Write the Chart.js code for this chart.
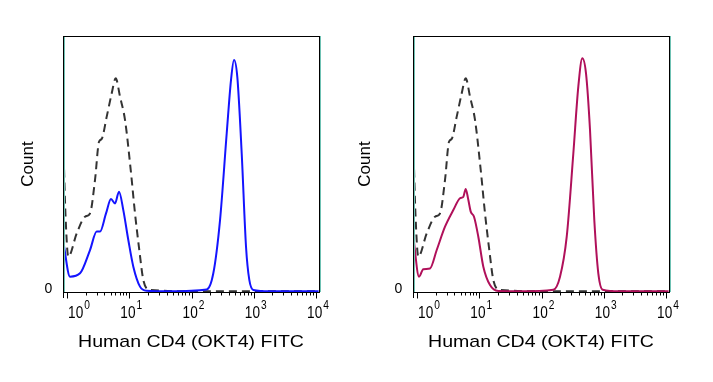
<!DOCTYPE html>
<html>
<head>
<meta charset="utf-8">
<script src="https://cdn.jsdelivr.net/npm/chart.js@4"></script>
<style>
  html, body { margin: 0; padding: 0; background: #fff; }
  #wrap { position: relative; width: 713px; height: 382px; overflow: hidden; }
  canvas { position: absolute; top: 0; }
</style>
</head>
<body>
<div id="wrap">
  <canvas id="c1" width="356" height="382" style="left:0px"></canvas>
  <canvas id="c2" width="356" height="382" style="left:350px"></canvas>
</div>
<script>
// ---- data (fluorescence intensity, relative count) ----
const isotypeX = [0.872, 0.946, 1.049, 1.432, 1.946, 2.342, 2.817, 3.267, 3.609, 4.343, 5.226, 6.059, 7.102, 8.545, 10.55, 12.37, 14.50, 16.82, 21.54, 100, 1000, 11000];
const isotypeY = [58, 30, 13.8, 22.9, 29.4, 30.7, 43.8, 58.7, 59.8, 68.5, 77.6, 83.5, 76.3, 67.2, 47.7, 30.7, 16.4, 4.7, 0.8, 0.3, 0.3, 0.3];

const fitcX = [0.872, 1.117, 1.618, 2.342, 3.000, 3.390, 4.232, 5.090, 5.903, 6.844, 8.024, 9.654, 11.62, 14.89, 19.07, 45, 175.5, 224.0, 287.0, 367.7, 431.0, 481.6, 544.1, 640.6, 750.9, 848.3, 983.5, 1824, 11000];
const fitcY = [19.6, 6.0, 7.3, 16.4, 23.6, 23.6, 30.7, 36.3, 34.6, 39.2, 32, 20.3, 9.9, 2.1, 0.5, 0.3, 1, 7.3, 28, 62, 82.8, 90.6, 84, 54, 17.7, 4.7, 0.8, 0.3, 0.3];

const fitc2X = [0.872, 1.077, 1.262, 1.618, 2.073, 2.817, 3.830, 4.908, 5.543, 6.059, 6.671, 7.292, 8.234, 9.654, 11.62, 14.89, 20.23, 45, 154.7, 198.3, 254.1, 324.2, 390.1, 452.4, 518.6, 601.4, 705.1, 817.5, 961.9, 1824, 11000];
const fitc2Y = [21.6, 6.0, 8.9, 9.2, 16.4, 25.5, 32, 36.6, 37.2, 40.2, 36, 31.4, 29.4, 21.6, 9.9, 2.7, 0.4, 0.3, 0.9, 6, 21.6, 54, 80.2, 91.3, 85.4, 63.3, 28, 7.3, 0.9, 0.3, 0.3];

const tickExponents = [0, 1, 2, 3, 4];
const yTickLabels = ['0'];
const xTitle = 'Human CD4 (OKT4) FITC';
const yTitle = 'Count';

const pts = (xs, ys) => xs.map((x, i) => ({ x: x, y: ys[i] }));

const FONT = '"Liberation Sans", Arial, Helvetica, sans-serif';

function scaledText(ctx, text, x, y, font, sx, align) {
  ctx.save();
  ctx.translate(x, y);
  ctx.scale(sx, 1);
  ctx.font = font;
  ctx.textAlign = align || 'left';
  ctx.textBaseline = 'alphabetic';
  ctx.fillText(text, 0, 0);
  ctx.restore();
}

const facsFrame = {
  id: 'facsFrame',
  afterDatasetsDraw(chart, args, opts) {
    const ctx = chart.ctx;
    const a = chart.chartArea;
    const xs = chart.scales.x;
    const ys = chart.scales.y;
    ctx.save();
    // frame
    const L = Math.round(a.left), T = Math.round(a.top), R = Math.round(a.right), B = Math.round(a.bottom);
    ctx.lineWidth = 1;
    ctx.strokeStyle = '#6fc2b4';
    ctx.beginPath();
    ctx.moveTo(L + 1.5, T + 1); ctx.lineTo(L + 1.5, B);
    ctx.moveTo(R + 1.5, T); ctx.lineTo(R + 1.5, B);
    ctx.stroke();
    ctx.strokeStyle = '#000';
    ctx.strokeRect(L + 0.5, T + 0.5, R - L, B - T);

    // x ticks (major + minor)
    ctx.beginPath();
    for (const e of tickExponents) {
      for (let m = 1; m <= 9; m++) {
        const v = m * Math.pow(10, e);
        if (v < xs.min || v > xs.max) continue;
        const px = Math.round(xs.getPixelForValue(v)) + 0.5;
        const len = (m === 1) ? 6 : 3;
        ctx.moveTo(px, B + 0.5);
        ctx.lineTo(px, B + 0.5 + len);
      }
    }
    ctx.moveTo(L + 0.5, B + 0.5); ctx.lineTo(L + 0.5, B + 6);
    ctx.stroke();

    // x tick labels 10^n
    ctx.fillStyle = '#000';
    const baseFont = '16px ' + FONT;
    const supFont = '12px ' + FONT;
    const sx = 0.85;
    for (const e of tickExponents) {
      const px = xs.getPixelForValue(Math.pow(10, e));
      ctx.font = baseFont;
      const w1 = ctx.measureText('10').width * sx;
      ctx.font = supFont;
      const w2 = ctx.measureText(String(e)).width * sx;
      const total = w1 + 1 + w2;
      let cx = Math.max(px + 2, a.left + 16);
      const start = cx - total / 2;
      scaledText(ctx, '10', start, B + 26, baseFont, sx, 'left');
      scaledText(ctx, String(e), start + w1 + 1, B + 17, supFont, sx, 'left');
    }

    // y tick label
    ctx.font = '14px ' + FONT;
    ctx.textAlign = 'center';
    ctx.textBaseline = 'alphabetic';
    ctx.fillText(yTickLabels[0], a.left - 14.5, ys.getPixelForValue(0) + 0.5);

    // x title
    scaledText(ctx, xTitle, (a.left + a.right) / 2, B + 55, '17px ' + FONT, 1.15, 'center');

    // y title
    ctx.save();
    ctx.translate(opts.yTitleX, (a.top + a.bottom) / 2);
    ctx.rotate(-Math.PI / 2);
    ctx.font = '17px ' + FONT;
    ctx.textAlign = 'center';
    ctx.textBaseline = 'middle';
    ctx.fillText(yTitle, 0, 0);
    ctx.restore();

    ctx.restore();
  }
};

function makePanel(id, sampleX, sampleY, color, yTitleX) {
  return new Chart(document.getElementById(id), {
    type: 'line',
    data: {
      datasets: [
        {
          data: pts(sampleX, sampleY),
          borderColor: color,
          borderWidth: 2,
          pointRadius: 0,
          fill: false,
          cubicInterpolationMode: 'monotone'
        },
        {
          data: pts(isotypeX, isotypeY),
          borderColor: '#333333',
          borderWidth: 2,
          borderDash: [8, 5],
          pointRadius: 0,
          fill: false,
          cubicInterpolationMode: 'monotone'
        }
      ]
    },
    options: {
      responsive: false,
      animation: false,
      layout: { padding: { left: 63, top: 36, right: 37, bottom: 90 } },
      plugins: {
        legend: { display: false },
        tooltip: { enabled: false },
        facsFrame: { yTitleX: yTitleX }
      },
      scales: {
        x: { type: 'logarithmic', min: 0.862, max: 11170, display: false },
        y: { type: 'linear', min: 0, max: 100, display: false }
      }
    },
    plugins: [facsFrame]
  });
}

makePanel('c1', fitcX, fitcY, '#1414ff', 28.5);
makePanel('c2', fitc2X, fitc2Y, '#b0105a', 15.5);
</script>
</body>
</html>
